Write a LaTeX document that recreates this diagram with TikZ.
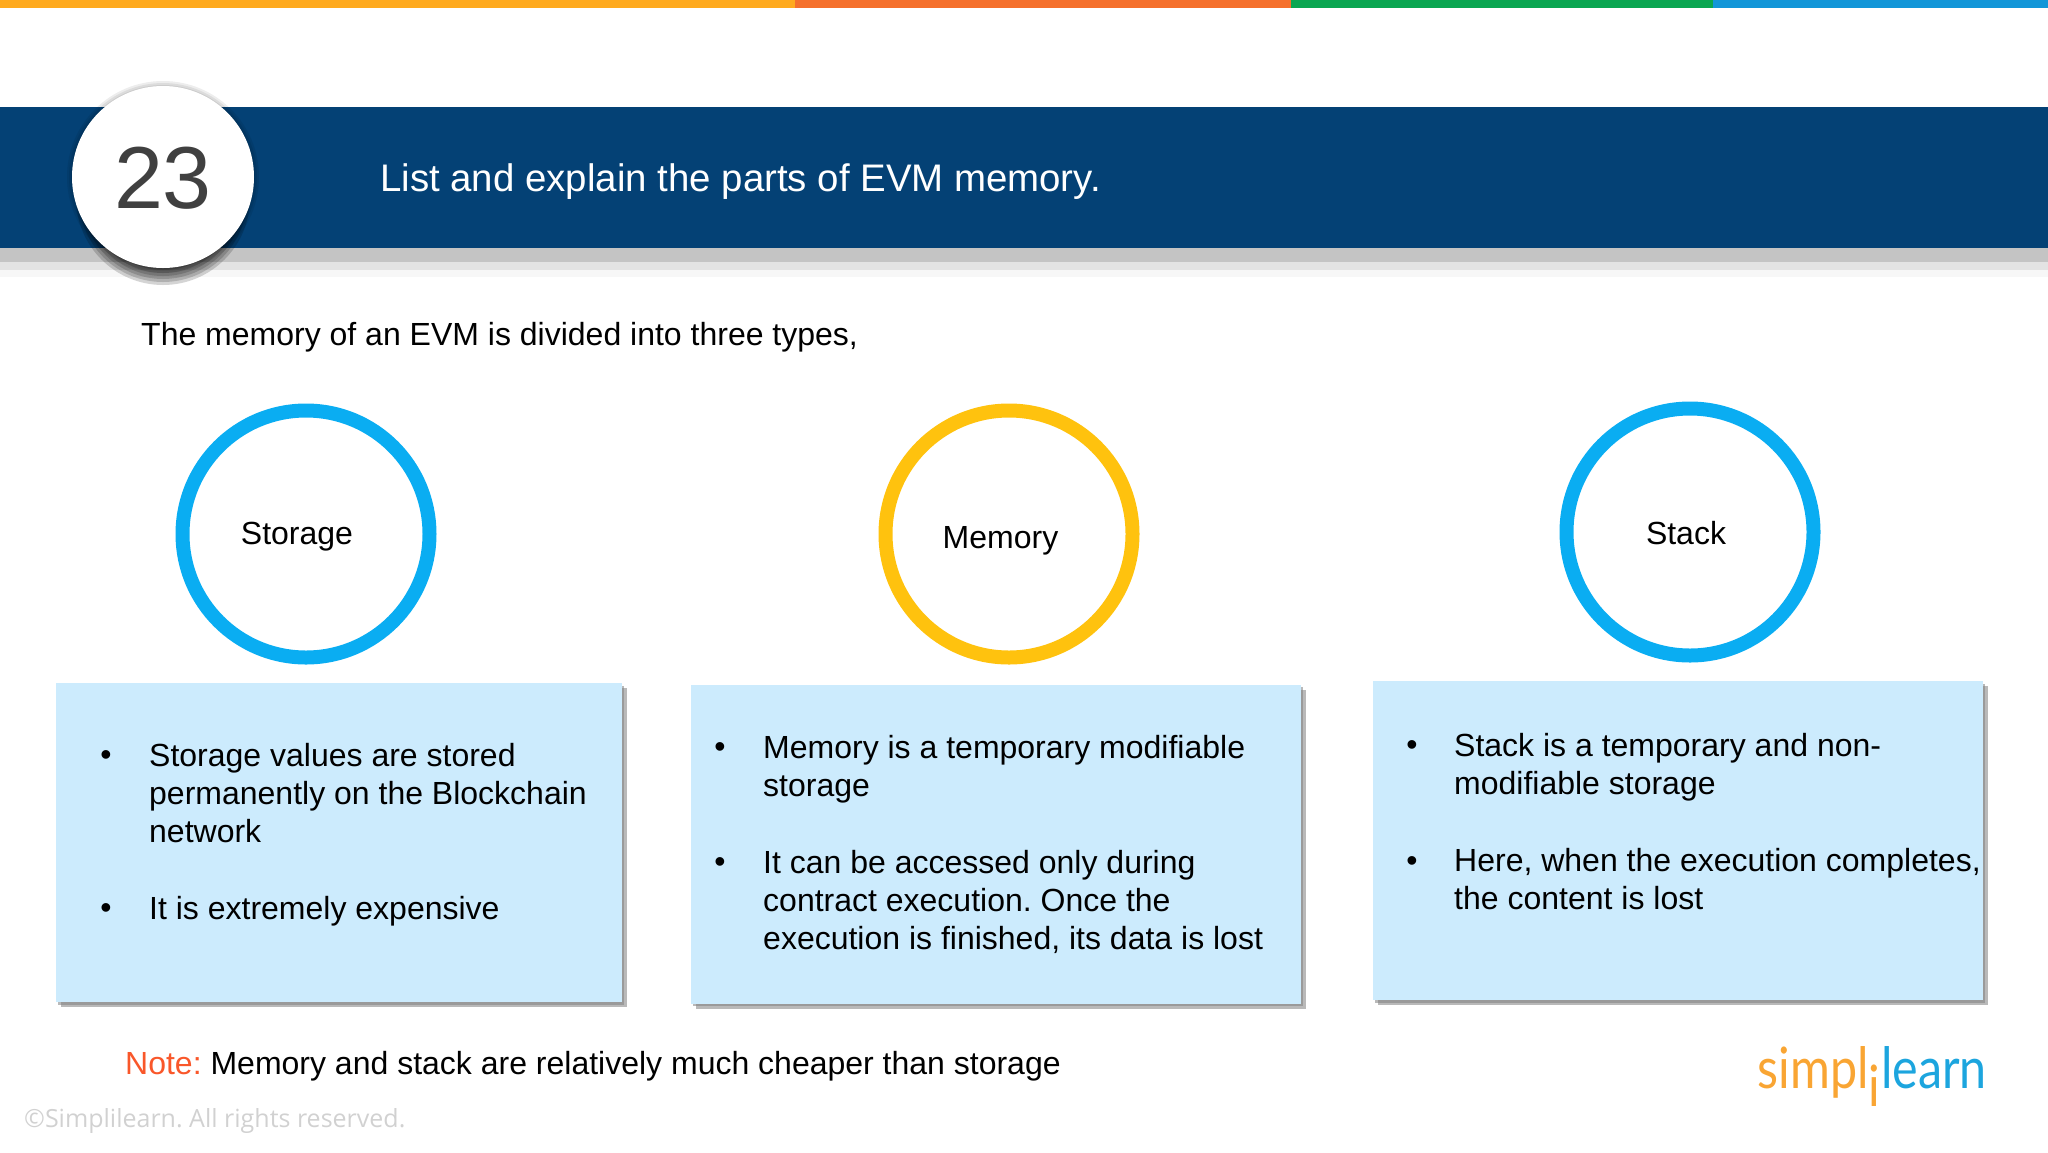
\documentclass[tikz,border=0pt]{standalone}
\usepackage{fontspec}
\setmainfont{Liberation Sans}
\newfontfamily\logofont{Lato}
\newfontfamily\copyfont{Open Sans}
\usetikzlibrary{positioning,shadows}
\frenchspacing
\definecolor{bandblue}{HTML}{044175}
\definecolor{boxblue}{HTML}{CCEBFD}
\definecolor{ringblue}{HTML}{0AADF2}
\definecolor{ringyellow}{HTML}{FFC20E}
\definecolor{noteorange}{HTML}{F9572A}
\definecolor{logoorange}{HTML}{F9A533}
\definecolor{logoblue}{HTML}{1CA5DE}
\tikzset{
  ring/.style={circle,draw=#1,line width=14pt,minimum size=247pt,inner sep=0pt},
  infobox/.style={fill=boxblue,minimum width=#1,minimum height=319pt,inner sep=0pt,
    double copy shadow={shadow xshift=2.3pt,shadow yshift=-2.5pt,fill=black!50,draw=none,opacity=.55}},
  bodytext/.style={anchor=west,align=flush left,inner sep=0pt,text width=#1,
    font=\fontsize{32}{38.4}\selectfont},
  bullet/.style={inner sep=0pt,font=\fontsize{32}{38.4}\selectfont},
  ringlabel/.style={inner sep=0pt,font=\fontsize{32}{38.4}\selectfont},
}
\begin{document}
\begin{tikzpicture}[x=1pt,y=-1pt]
    \useasboundingbox (0,0) rectangle (2048,1152);
    % Faixa colorida no topo
    \foreach \xa/\xb/\col in {0/795/FFAA1E,795/1291/F5702C,1291/1713/0AA651,1713/2048/1296D8} {
        \definecolor{barcol}{HTML}{\col}
        \fill[barcol] (\xa,0) rectangle (\xb,8);
    }
    % Cabecalho
    \fill[black!3] (0,262) rectangle (2048,277);
    \fill[black!11] (0,262) rectangle (2048,270);
    \fill[black!23] (0,248) rectangle (2048,262);
    \fill[bandblue] (0,107) rectangle (2048,248);
    \foreach \r in {96,94,92} {
        \fill[black,opacity=.07] (163,177) circle (\r);
    }
    \foreach \r in {87,84,81,78,75,72} {
        \fill[black,opacity=.17] (163,198) circle (\r);
    }
    \node[circle,fill=white,minimum size=182pt,inner sep=0pt] (num) at (163,177) {};
    \node[text=black!75,font=\fontsize{88}{88}\selectfont] (numtext) at (163,178) {23};
    \node[anchor=west,text=white,inner sep=0pt,font=\fontsize{38.4}{44}\selectfont] (title) at (380,182) {List and explain the parts of EVM memory.};
    \node[anchor=west,inner sep=0pt,font=\fontsize{32}{38.4}\selectfont] (intro) at (141,337) {The memory of an EVM is divided into three types,};
    % Circulos
    \node[ring=ringblue] (cs) at (306,534) {};
    \node[ring=ringyellow] (cm) at (1009,534) {};
    \node[ring=ringblue] (ck) at (1690,532) {};
    \node[ringlabel] (ls) at (297,537) {Storage};
    \node[ringlabel] (lm) at (1000.5,541) {Memory};
    \node[ringlabel] (lk) at (1686,533) {Stack};
    % Caixas
    \node[infobox=566pt] (bs) at (339,842.5) {};
    \node[infobox=610pt] (bm) at (996,844) {};
    \node[infobox=610pt] (bk) at (1678,840.5) {};
    % Textos das caixas
    \node[bodytext=470pt] (ts1) at (149,793) {Storage values are stored\\permanently on the Blockchain\\network};
    \node[bodytext=470pt] (ts2) at (149,911) {It is extremely expensive};
    \node[bodytext=520pt] (tm1) at (763,769) {Memory is a temporary modifiable\\storage};
    \node[bodytext=530pt] (tm2) at (763,902) {It can be accessed only during\\contract execution. Once the\\execution is finished, its data is lost};
    \node[bodytext=560pt] (tk1) at (1454,767) {Stack is a temporary and non-\\modifiable storage};
    \node[bodytext=560pt] (tk2) at (1454,879) {Here, when the execution completes,\\the content is lost};
    \foreach \n/\px/\py in {d1/106/758,d2/106/911,d3/720/750,d4/720/865,d5/1412/748,d6/1412/864} {
        \node[bullet] (\n) at (\px,\py) {•};
    }
    % Rodape
    \node[anchor=west,inner sep=0pt,font=\fontsize{32}{38.4}\selectfont] (note) at (125,1066) {\textcolor{noteorange}{Note:} Memory and stack are relatively much cheaper than storage};
    \node[anchor=west,inner sep=0pt,text=black!18,font=\copyfont\fontsize{25}{30}\selectfont] (copy) at (24,1121) {©Simplilearn. All rights reserved.};
    % Logo
    \node[anchor=base east,inner sep=0pt,text=logoorange,font=\logofont\fontsize{57}{60}\selectfont] (lg1) at (1869,1088) {\scalebox{.85}[1]{simpl}};
    \node[anchor=base,inner sep=0pt,text=logoorange,font=\logofont\fontsize{57}{60}\selectfont] (lg2) at (1874,1106) {\scalebox{.85}[1]{i}};
    \node[anchor=base west,inner sep=0pt,text=logoblue,font=\logofont\fontsize{57}{60}\selectfont] (lg3) at (1881,1088) {\scalebox{.85}[1]{learn}};
\end{tikzpicture}
\end{document}
